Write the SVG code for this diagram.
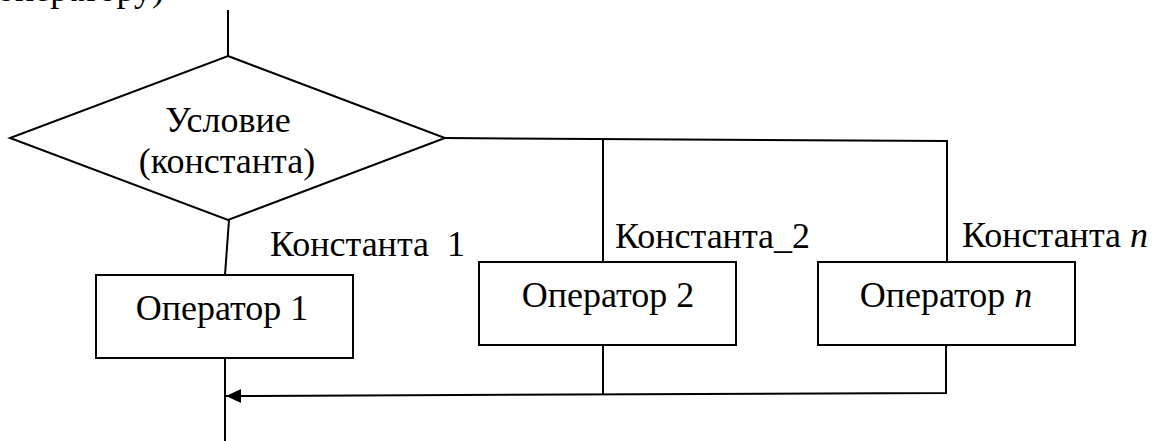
<svg xmlns="http://www.w3.org/2000/svg" width="1162" height="441" viewBox="0 0 1162 441" font-family="Liberation Serif, Times New Roman, serif" font-size="36">
  <style>
    .shape { fill: #ffffff; stroke: #000000; stroke-width: 2; }
    .line { fill: none; stroke: #000000; stroke-width: 2; }
    .mid { text-anchor: middle; }
    .it { font-style: italic; }
  </style>
  <defs>
    <marker id="arrow" markerUnits="userSpaceOnUse" markerWidth="16" markerHeight="16" viewBox="0 0 16 16" refX="15" refY="8" orient="auto">
      <path d="M0,1 L15,8 L0,15 Z" fill="#000000"/>
    </marker>
  </defs>

  <rect width="1162" height="441" fill="#ffffff"/>

  <!-- tail of the preceding text line -->
  <text x="164" y="1" text-anchor="end">оператору)</text>

  <!-- connectors -->
  <g id="connectors">
    <line class="line" x1="228" y1="10" x2="228" y2="56"/>
    <line class="line" x1="229" y1="220" x2="225" y2="275"/>
    <polyline class="line" points="445,138 947,141 947,262"/>
    <line class="line" x1="603" y1="139" x2="603" y2="262"/>
    <line class="line" x1="225" y1="358" x2="225" y2="441"/>
    <line class="line" x1="603" y1="345" x2="603" y2="395"/>
    <polyline class="line" points="946,345 946,393 226,396" marker-end="url(#arrow)"/>
  </g>

  <!-- decision -->
  <g id="condition">
    <polygon class="shape" points="228,56 445,138 228,220 10,138"/>
    <text class="mid" x="228" y="132">Условие</text>
    <text class="mid" x="227" y="173">(константа)</text>
  </g>

  <!-- branch labels -->
  <g id="labels">
    <text x="270" y="256" xml:space="preserve">Константа  1</text>
    <text x="615" y="248">Константа_2</text>
    <text x="962" y="247">Константа <tspan class="it">n</tspan></text>
  </g>

  <g id="operator1">
    <rect class="shape" x="96" y="275" width="257" height="83"/>
    <text class="mid" x="222" y="320">Оператор 1</text>
  </g>

  <g id="operator2">
    <rect class="shape" x="479" y="262" width="257" height="83"/>
    <text class="mid" x="608" y="307">Оператор 2</text>
  </g>

  <g id="operatorN">
    <rect class="shape" x="818" y="262" width="257" height="83"/>
    <text class="mid" x="946" y="307">Оператор <tspan class="it">n</tspan></text>
  </g>
</svg>
